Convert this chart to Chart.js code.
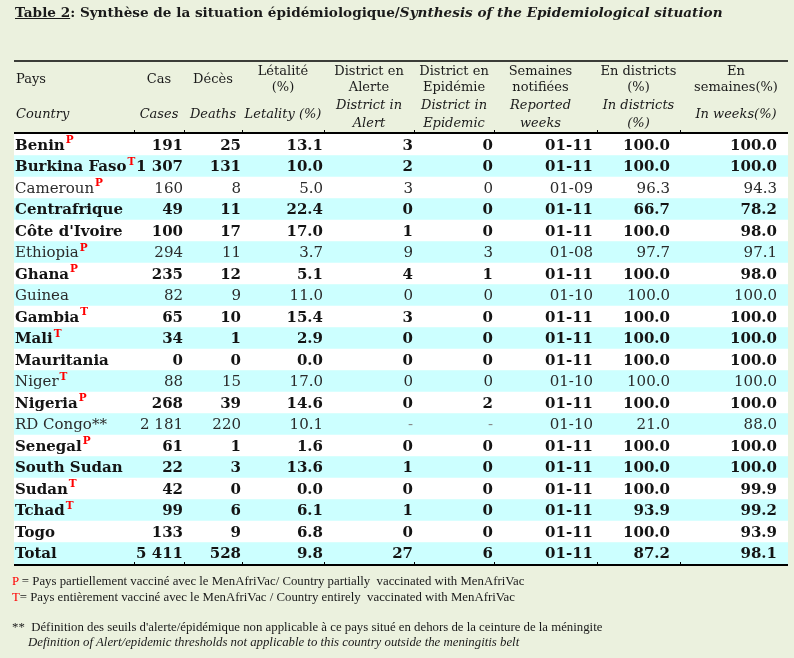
<!DOCTYPE html>
<html>
<head>
<meta charset="utf-8">
<script src="https://cdn.jsdelivr.net/npm/chart.js@4.4.1/dist/chart.umd.min.js"></script>
<style>
  body { margin: 0; background: #ebf1de; }
  #wrap { position: relative; width: 794px; height: 658px; overflow: hidden; background: #ebf1de; }
  #title { position: absolute; left: 15px; top: 4px; font: bold 13.6px 'DejaVu Serif'; color: #1a1a1a; white-space: nowrap; }
  .note { position: absolute; left: 12px; font: 12.8px 'Liberation Serif'; color: #1a1a1a; white-space: nowrap; }
  .red { color: #ff0000; }
</style>
</head>
<body>
<div id="wrap">
  <canvas id="myChart" width="794" height="658"></canvas>
  <div id="title"><u>Table 2</u>: Synthèse de la situation épidémiologique/<i>Synthesis of the Epidemiological situation</i></div>
  <div class="note" style="top:574px"><span class="red">P</span> = Pays partiellement vacciné avec le MenAfriVac/ Country partially&nbsp; vaccinated with MenAfriVac</div>
  <div class="note" style="top:590px"><span class="red">T</span>= Pays entièrement vacciné avec le MenAfriVac / Country entirely&nbsp; vaccinated with MenAfriVac</div>
  <div class="note" style="top:620px">**&nbsp; Définition des seuils d'alerte/épidémique non applicable à ce pays situé en dehors de la ceinture de la méningite</div>
  <div class="note" style="top:635px; left:28px"><i>Definition of Alert/epidemic thresholds not applicable to this country outside the meningitis belt</i></div>
</div>
<script>
// donnees du tableau
const countries = ['Benin', 'Burkina Faso', 'Cameroun', 'Centrafrique', "Côte d'Ivoire", 'Ethiopia', 'Ghana', 'Guinea', 'Gambia', 'Mali',
  'Mauritania', 'Niger', 'Nigeria', 'RD Congo**', 'Senegal', 'South Sudan', 'Sudan', 'Tchad', 'Togo', 'Total'];
const vaccine = ['P', 'T', 'P', '', '', 'P', 'P', '', 'T', 'T', '', 'T', 'P', '', 'P', '', 'T', 'T', '', ''];
const cases = [191, 1307, 160, 49, 100, 294, 235, 82, 65, 34, 0, 88, 268, 2181, 61, 22, 42, 99, 133, 5411];
const deaths = [25, 131, 8, 11, 17, 11, 12, 9, 10, 1, 0, 15, 39, 220, 1, 3, 0, 6, 9, 528];
const letality = [13.1, 10.0, 5.0, 22.4, 17.0, 3.7, 5.1, 11.0, 15.4, 2.9, 0.0, 17.0, 14.6, 10.1, 1.6, 13.6, 0.0, 6.1, 6.8, 9.8];
const alertDistricts = [3, 2, 3, 0, 1, 9, 4, 0, 3, 0, 0, 0, 0, null, 0, 1, 0, 1, 0, 27];
const epidemicDistricts = [0, 0, 0, 0, 0, 3, 1, 0, 0, 0, 0, 0, 2, null, 0, 0, 0, 0, 0, 6];
const weeks = ['01-11', '01-11', '01-09', '01-11', '01-11', '01-08', '01-11', '01-10', '01-11', '01-11',
  '01-11', '01-10', '01-11', '01-10', '01-11', '01-11', '01-11', '01-11', '01-11', '01-11'];
const inDistricts = [100.0, 100.0, 96.3, 66.7, 100.0, 97.7, 100.0, 100.0, 100.0, 100.0, 100.0, 100.0, 100.0, 21.0, 100.0, 100.0, 100.0, 93.9, 100.0, 87.2];
const inWeeks = [100.0, 100.0, 94.3, 78.2, 98.0, 97.1, 98.0, 100.0, 100.0, 100.0, 100.0, 100.0, 100.0, 88.0, 100.0, 100.0, 99.9, 99.2, 93.9, 98.1];
const regularRows = ['Cameroun', 'Ethiopia', 'Guinea', 'Niger', 'RD Congo**'];

const headerFr = [['Pays'], ['Cas'], ['Décès'], ['Létalité', '(%)'], ['District en', 'Alerte'], ['District en', 'Epidémie'],
  ['Semaines', 'notifiées'], ['En districts', '(%)'], ['En', 'semaines(%)']];
const headerEn = [['Country'], ['Cases'], ['Deaths'], ['Letality (%)'], ['District in', 'Alert'], ['District in', 'Epidemic'],
  ['Reported', 'weeks'], ['In districts', '(%)'], ['In weeks(%)']];

// mise en page des colonnes
const colWidths = [120, 50, 58, 82, 90, 80, 103, 83, 108];
const rightPad = [0, 1, 1, 1, 1, 1, 4, 10, 11];
const headerShift = [0, 0, 0, 0, 0, 0, -5, 0, 2];
const totalWidth = colWidths.reduce((a, b) => a + b, 0);
const edges = [0];
colWidths.forEach(w => edges.push(edges[edges.length - 1] + w));

const fmtInt = n => n === null ? '-' : String(n).replace(/\B(?=(\d{3})+(?!\d))/g, ' ');
const fmtDec = n => n === null ? '-' : n.toFixed(1);

function rowCells(i) {
  return [fmtInt(cases[i]), fmtInt(deaths[i]), fmtDec(letality[i]), fmtInt(alertDistricts[i]),
    fmtInt(epidemicDistricts[i]), weeks[i], fmtDec(inDistricts[i]), fmtDec(inWeeks[i])];
}

const tablePlugin = {
  id: 'tableText',
  afterDatasetsDraw(chart) {
    const ctx = chart.ctx;
    const xs = chart.scales.x, ys = chart.scales.y;
    const left = xs.getPixelForValue(0), right = xs.getPixelForValue(totalWidth);
    ctx.save();

    // entetes
    ctx.fillStyle = '#1a1a1a';
    ctx.textBaseline = 'middle';
    const drawHeader = (labels, font, ySingle, yTop, yBot) => {
      ctx.font = font;
      labels.forEach((lines, c) => {
        let x = c === 0 ? left + 2 : (xs.getPixelForValue(edges[c]) + xs.getPixelForValue(edges[c + 1])) / 2 + headerShift[c];
        ctx.textAlign = c === 0 ? 'left' : 'center';
        if (lines.length === 1) ctx.fillText(lines[0], x, ySingle);
        else { ctx.fillText(lines[0], x, yTop); ctx.fillText(lines[1], x, yBot); }
      });
    };
    drawHeader(headerFr, "13px 'DejaVu Serif'", 80, 72, 88);
    drawHeader(headerEn, "italic 13px 'DejaVu Serif'", 115, 106, 124);

    // lignes
    ctx.strokeStyle = '#000';
    ctx.lineWidth = 1.5;
    ctx.beginPath(); ctx.moveTo(left, 61); ctx.lineTo(right, 61); ctx.stroke();
    const top = chart.chartArea.top, bottom = chart.chartArea.bottom;
    ctx.lineWidth = 2;
    [top - 1, bottom + 1].forEach(y => {
      ctx.beginPath(); ctx.moveTo(left, y); ctx.lineTo(right, y); ctx.stroke();
    });
    ctx.lineWidth = 1;
    edges.slice(1, -1).forEach(e => {
      const x = Math.round(xs.getPixelForValue(e)) + 0.5;
      [top - 1, bottom + 1].forEach(y => {
        ctx.beginPath(); ctx.moveTo(x, y - 3); ctx.lineTo(x, y); ctx.stroke();
      });
    });

    // cellules
    countries.forEach((name, i) => {
      const y = ys.getPixelForValue(i) + 1;
      const bold = !regularRows.includes(name);
      const font = (bold ? 'bold ' : '') + "15px 'DejaVu Serif'";
      ctx.font = font;
      ctx.fillStyle = bold ? '#141414' : '#2b2b2b';
      ctx.textAlign = 'left';
      const x0 = left + 1;
      ctx.fillText(name, x0, y);
      if (vaccine[i]) {
        const w = ctx.measureText(name).width;
        ctx.font = "bold 10.5px 'DejaVu Serif'";
        ctx.fillStyle = '#ff0000';
        ctx.fillText(vaccine[i], x0 + w + 1, y - 5);
      }
      ctx.font = font;
      ctx.textAlign = 'right';
      rowCells(i).forEach((txt, c) => {
        ctx.fillStyle = txt === '-' ? '#888' : (bold ? '#141414' : '#2b2b2b');
        ctx.fillText(txt, xs.getPixelForValue(edges[c + 2]) - rightPad[c + 1], y);
      });
    });
    ctx.restore();
  }
};

const ctx = document.getElementById('myChart').getContext('2d');
new Chart(ctx, {
  type: 'bar',
  data: {
    labels: countries,
    datasets: [{
      data: countries.map(() => [0, totalWidth]),
      backgroundColor: countries.map((_, i) => i % 2 ? '#ccffff' : '#ffffff'),
      borderWidth: 0,
      barPercentage: 1,
      categoryPercentage: 1
    }]
  },
  options: {
    indexAxis: 'y',
    responsive: false,
    animation: false,
    layout: { padding: { left: 14, right: 6, top: 134, bottom: 94 } },
    plugins: { legend: { display: false }, tooltip: { enabled: false } },
    scales: {
      x: { type: 'linear', min: 0, max: totalWidth, display: false },
      y: { type: 'category', display: false }
    }
  },
  plugins: [tablePlugin]
});
</script>
</body>
</html>
